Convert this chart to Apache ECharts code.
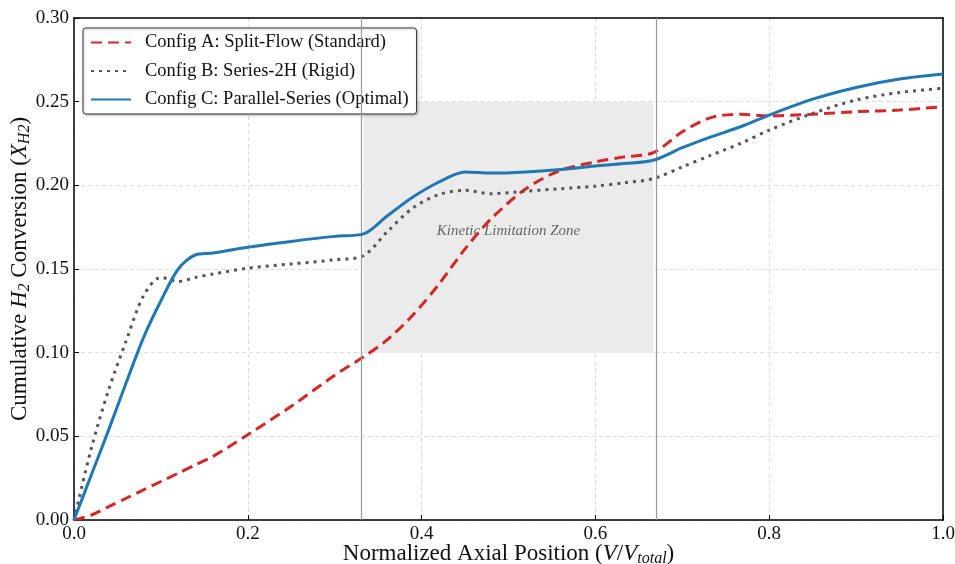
<!DOCTYPE html>
<html>
<head>
<meta charset="utf-8">
<script src="https://cdn.jsdelivr.net/npm/echarts@6/dist/echarts.min.js"></script>
<style>
  html, body { margin: 0; padding: 0; background: #fff; }
  #chart1 { width: 955px; height: 564px; }
</style>
</head>
<body>
<div id="chart1"></div>
<script>
// axial positions (V / V_total)
var positions = [0, 0.02, 0.04, 0.06, 0.08, 0.1, 0.12, 0.14, 0.16, 0.2, 0.25, 0.3, 0.3333,
  0.36, 0.39, 0.42, 0.45, 0.48, 0.52, 0.56, 0.6, 0.633, 0.6667, 0.7, 0.733, 0.767, 0.8,
  0.85, 0.9, 0.95, 1.0];

var configA = [0, 0.003, 0.008, 0.013, 0.018, 0.023, 0.028, 0.033, 0.038, 0.051, 0.068, 0.0865, 0.0975,
  0.1075, 0.1225, 0.141, 0.162, 0.180, 0.198, 0.209, 0.214, 0.217, 0.2195, 0.232, 0.2405, 0.2425, 0.2415,
  0.2425, 0.244, 0.245, 0.247];
var configB = [0, 0.043, 0.078, 0.107, 0.134, 0.145, 0.1425, 0.145, 0.147, 0.1505, 0.153, 0.1555, 0.158,
  0.172, 0.1865, 0.1945, 0.197, 0.195, 0.1965, 0.198, 0.1995, 0.2015, 0.204, 0.211, 0.218, 0.225, 0.233,
  0.243, 0.251, 0.2555, 0.258];
var configC = [0, 0.027, 0.054, 0.082, 0.109, 0.131, 0.150, 0.1585, 0.1595, 0.163, 0.1665, 0.1695, 0.171,
  0.1815, 0.193, 0.202, 0.208, 0.2073, 0.208, 0.2095, 0.2115, 0.213, 0.215, 0.2225, 0.229, 0.235, 0.242,
  0.2515, 0.2585, 0.2635, 0.2665];

var seriesNames = ['Config A: Split-Flow (Standard)', 'Config B: Series-2H (Rigid)', 'Config C: Parallel-Series (Optimal)'];
var stageBounds = [1 / 3, 2 / 3];
var zoneRange = [0.10, 0.25];
var zoneLabel = 'Kinetic Limitation Zone';

function pairs(ys) {
  return positions.map(function (x, i) { return [x, ys[i]]; });
}

var serif = '"Liberation Serif", "DejaVu Serif", serif';
var ink = '#111';
var nameRich = {
  i: { fontFamily: serif, fontSize: 23, fontStyle: 'italic', color: ink },
  sub: { fontFamily: serif, fontSize: 16, fontStyle: 'italic', color: ink, verticalAlign: 'bottom', padding: [11, 0, 0, 0] }
};
var gridLine = { show: true, lineStyle: { color: '#dcdcdc', type: [4, 3], width: 1 } };
var frameLine = { show: true, onZero: false, lineStyle: { color: '#000', width: 1.5 } };

var chart = echarts.init(document.getElementById('chart1'));

chart.setOption({
  animation: false,
  textStyle: { fontFamily: serif },
  grid: { left: 74, right: 12, top: 18, bottom: 44, outerBoundsMode: 'none', containLabel: false },
  legend: {
    orient: 'vertical',
    left: 83, top: 28,
    padding: [5, 8, 5, 7],
    itemWidth: 40, itemHeight: 14, itemGap: 9.5,
    backgroundColor: '#fff',
    borderColor: '#333', borderWidth: 1, borderRadius: 3,
    shadowColor: 'rgba(0,0,0,0.25)', shadowBlur: 3, shadowOffsetX: 1, shadowOffsetY: 1,
    itemStyle: { opacity: 0 },
    textStyle: { fontFamily: serif, fontSize: 18.5, color: ink, padding: [0, 0, 0, 9] },
    data: seriesNames
  },
  xAxis: [{
    type: 'value', min: 0, max: 1, interval: 0.2,
    name: 'Normalized Axial Position ({i|V}/{i|V}{sub|total})',
    nameLocation: 'middle', nameGap: 20, nameMoveOverlap: false,
    nameTextStyle: { fontFamily: serif, fontSize: 23, color: ink, rich: nameRich },
    axisLine: frameLine,
    axisTick: { show: true, inside: true, length: 5, lineStyle: { color: '#000' } },
    axisLabel: { fontFamily: serif, fontSize: 19, color: ink, margin: 5,
      formatter: function (v) { return v.toFixed(1); } },
    splitLine: gridLine
  }, {
    type: 'value', min: 0, max: 1, position: 'top',
    axisLine: frameLine, axisTick: { show: false }, axisLabel: { show: false }, splitLine: { show: false }
  }],
  yAxis: [{
    type: 'value', min: 0, max: 0.3, interval: 0.05,
    name: 'Cumulative {i|H}{sub|2} Conversion ({i|X}{sub|H2})',
    nameLocation: 'middle', nameGap: 41, nameMoveOverlap: false,
    nameTextStyle: { fontFamily: serif, fontSize: 23, color: ink, rich: nameRich },
    axisLine: frameLine,
    axisTick: { show: true, inside: true, length: 5, lineStyle: { color: '#000' } },
    axisLabel: { fontFamily: serif, fontSize: 19, color: ink, margin: 5,
      formatter: function (v) { return v.toFixed(2); } },
    splitLine: gridLine
  }, {
    type: 'value', min: 0, max: 0.3, position: 'right',
    axisLine: frameLine, axisTick: { show: false }, axisLabel: { show: false }, splitLine: { show: false }
  }],
  series: [
    {
      name: seriesNames[0], type: 'line', smooth: 0.3, symbol: 'none', z: 3,
      lineStyle: { color: '#d62728', width: 3, type: [11, 6] },
      itemStyle: { color: '#d62728' },
      data: pairs(configA),
      markArea: {
        silent: true,
        itemStyle: { color: '#ebebeb' },
        label: { show: true, position: 'inside', offset: [0, 4], fontFamily: serif, fontSize: 15, fontStyle: 'italic', color: '#666' },
        data: [[
          { name: zoneLabel, xAxis: stageBounds[0], yAxis: zoneRange[0] },
          { xAxis: stageBounds[1], yAxis: zoneRange[1] }
        ]]
      },
      markLine: {
        silent: true, symbol: 'none',
        label: { show: false },
        lineStyle: { color: '#9a9a9a', type: 'solid', width: 1.2 },
        data: stageBounds.map(function (b) { return { xAxis: b }; })
      }
    },
    {
      name: seriesNames[1], type: 'line', smooth: 0.3, symbol: 'none', z: 4,
      lineStyle: { color: '#555555', width: 3, type: [3, 5] },
      itemStyle: { color: '#555555' },
      data: pairs(configB)
    },
    {
      name: seriesNames[2], type: 'line', smooth: 0.3, symbol: 'none', z: 5,
      lineStyle: { color: '#1f77b4', width: 3 },
      itemStyle: { color: '#1f77b4' },
      data: pairs(configC)
    }
  ]
});
</script>
</body>
</html>
